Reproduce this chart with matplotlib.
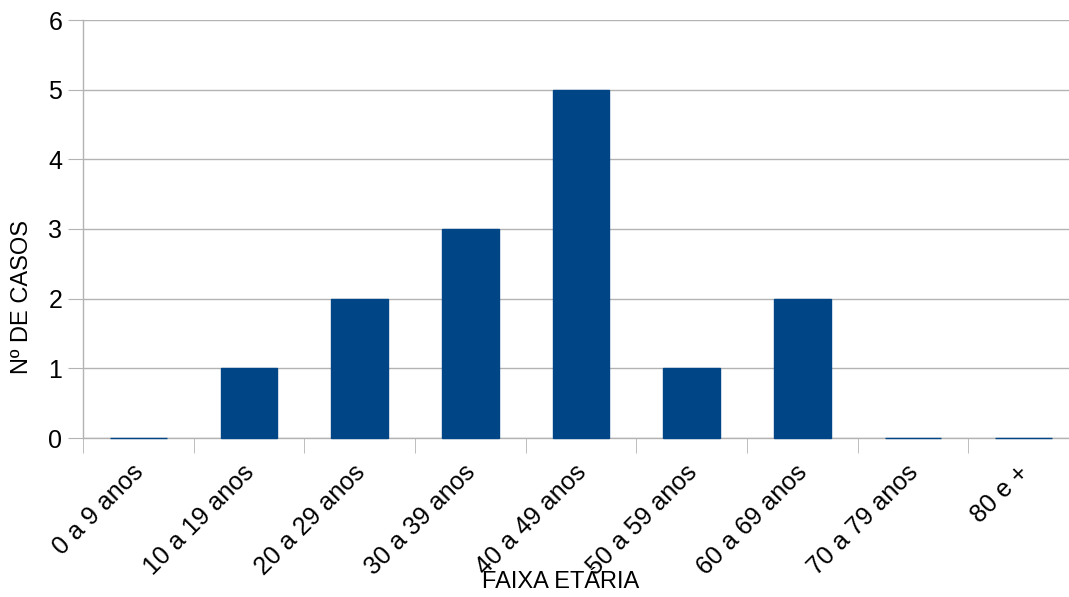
import numpy as np
import matplotlib.pyplot as plt
from matplotlib.transforms import ScaledTranslation

faixas = ['0 a 9 anos', '10 a 19 anos', '20 a 29 anos', '30 a 39 anos',
          '40 a 49 anos', '50 a 59 anos', '60 a 69 anos', '70 a 79 anos', '80 e +']
casos = [0, 1, 2, 3, 5, 1, 2, 0, 0]
y_ticks = [0, 1, 2, 3, 4, 5, 6]

plt.rcParams['font.family'] = ['Liberation Sans', 'DejaVu Sans']

W, H = 1069, 597
fig = plt.figure(figsize=(W / 100, H / 100), dpi=100)
# plot area runs a little past the right edge of the picture
ax = fig.add_axes([83 / W, 1 - 438 / H, (1079 - 83) / W, 418 / H])

grid_col = '#b3b3b3'
bar_col = '#004586'
x = np.arange(len(faixas))
ax.bar(x, casos, width=0.51, color=bar_col, edgecolor=bar_col, linewidth=1,
       zorder=3, clip_on=False)

ax.set_xlim(-0.5, len(faixas) - 0.5)
ax.set_ylim(0, 6)
ax.set_yticks(y_ticks)
ax.yaxis.grid(True, color=grid_col, linewidth=1, zorder=0)
ax.set_axisbelow(True)

for s in ['top', 'right']:
    ax.spines[s].set_visible(False)
for s in ['left', 'bottom']:
    ax.spines[s].set_color(grid_col)
    ax.spines[s].set_linewidth(1)

ax.tick_params(axis='y', length=11, color=grid_col, labelsize=18, pad=4)
ax.set_xticks(x)
ax.set_xticklabels(faixas, rotation=45, ha='right', rotation_mode='anchor', fontsize=18)
ax.tick_params(axis='x', which='major', length=0, pad=16)
ax.set_xticks(np.arange(len(faixas) + 1) - 0.5, minor=True)
ax.tick_params(axis='x', which='minor', length=11, color=grid_col)

shift = ScaledTranslation(-0.07, 0, fig.dpi_scale_trans)
for lbl in ax.get_xticklabels():
    lbl.set_verticalalignment('top')
    lbl.set_transform(lbl.get_transform() + shift)

fig.text(22 / W, 1 - 297 / H, 'Nº DE CASOS', rotation=90, ha='center', va='center', fontsize=17)
fig.text(561 / W, 1 - 582 / H, 'FAIXA ETÁRIA', ha='center', va='center', fontsize=17)

fig.savefig('out.png', dpi=100)
